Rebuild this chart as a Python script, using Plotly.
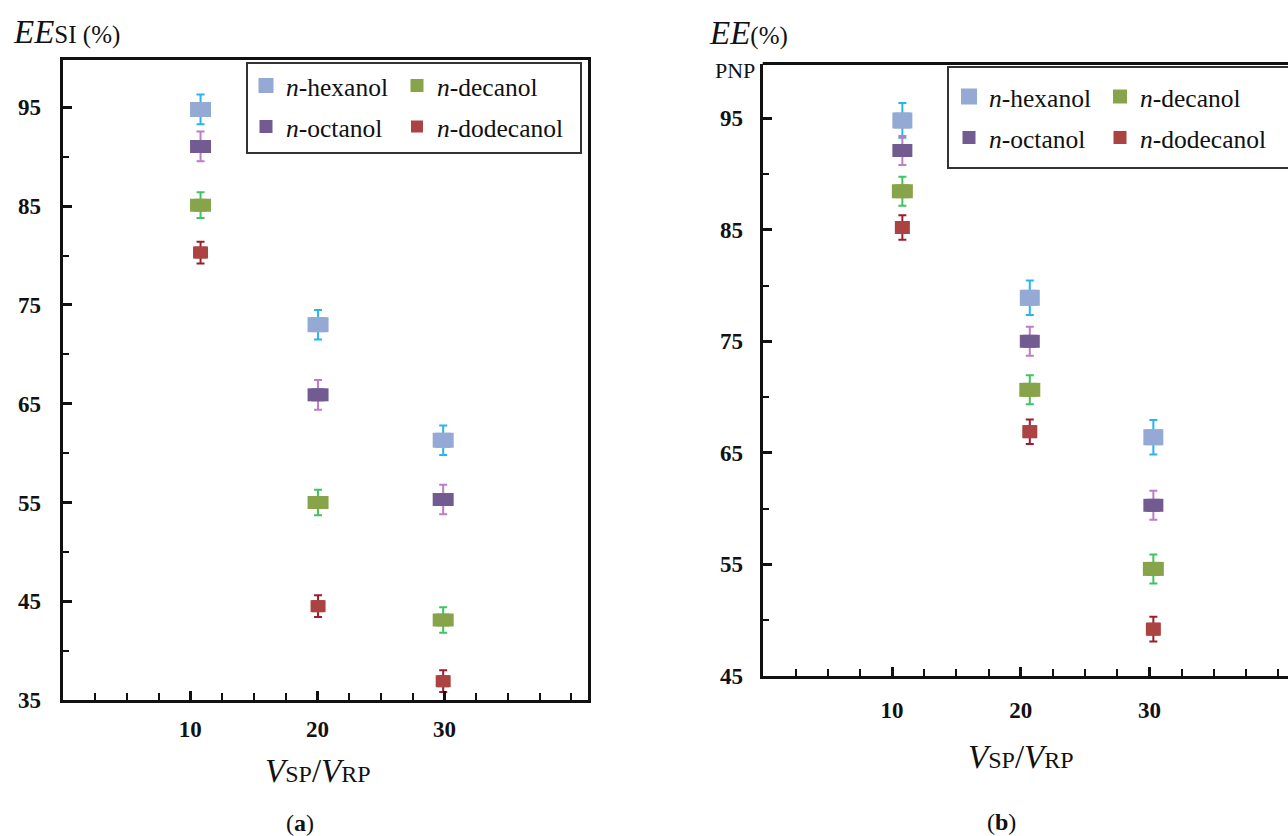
import plotly.graph_objects as go

W, H = 1288, 836

# ---- data -------------------------------------------------------------
solvents = ["<i>n</i>-hexanol", "<i>n</i>-octanol", "<i>n</i>-decanol", "<i>n</i>-dodecanol"]

# (a) EE of SI, positions of the three volume-ratio groups on the x axis
ratio_pos_a = [10.8, 20.05, 29.9]
ee_si = {
    "hexanol": [94.8, 73.0, 61.3],
    "octanol": [91.05, 65.9, 55.3],
    "decanol": [85.1, 55.0, 43.1],
    "dodecanol": [80.3, 44.5, 36.9],
}
err_si = {"hexanol": 1.5, "octanol": 1.5, "decanol": 1.3, "dodecanol": 1.1}

# (b) EE of PNP
ratio_pos_b = [10.8, 20.7, 30.3]
ee_pnp = {
    "hexanol": [94.8, 78.9, 66.4],
    "octanol": [92.1, 75.0, 60.3],
    "decanol": [88.46, 70.65, 54.6],
    "dodecanol": [85.2, 66.9, 49.2],
}
err_pnp = {"hexanol": 1.55, "octanol": 1.3, "decanol": 1.3, "dodecanol": 1.1}

x_ticks = [10, 20, 30]
y_ticks_a = [35, 45, 55, 65, 75, 85, 95]
y_ticks_b = [45, 55, 65, 75, 85, 95]

# ---- styles -----------------------------------------------------------
keys = ["hexanol", "octanol", "decanol", "dodecanol"]
box_fill = {"hexanol": "#94a9d4", "octanol": "#725b91", "decanol": "#88a44a", "dodecanol": "#aa4341"}
bar_col = {"hexanol": "#2ab4ec", "octanol": "#c07bc6", "decanol": "#3fc463", "dodecanol": "#9c1c30"}
box_h_a = {"hexanol": 15, "octanol": 13, "decanol": 13, "dodecanol": 12}
box_w_a = {"hexanol": 21, "octanol": 21, "decanol": 21, "dodecanol": 15}
box_h_b = {"hexanol": 16, "octanol": 13, "decanol": 14, "dodecanol": 13}
box_w_b = {"hexanol": 20, "octanol": 20, "decanol": 21, "dodecanol": 15}

SERIF = "Liberation Serif"
INK = "#111111"

# plot-area geometry in pixels
ax_a = dict(x0=62.7, x1=588, y0=60, y1=700)
ax_b = dict(x0=762.7, x1=1288, y0=63.5, y1=676)
xr_a = [-0.05, 41.3]
xr_b = [-0.05, 40.76]
yr_a = [35, 99.8]
yr_b = [45, 99.9]


def px_per_unit(ax, xr):
    return (ax["x1"] - ax["x0"]) / (xr[1] - xr[0])


fig = go.Figure()

# legend entry icon positions (pixels): one legend per entry
leg_pos_a = {"hexanol": (263, 86), "decanol": (414, 86), "octanol": (263, 127), "dodecanol": (414, 127)}
leg_pos_b = {"hexanol": (966, 97), "decanol": (1117, 97), "octanol": (966, 138), "dodecanol": (1117, 138)}

legend_layouts = {}
n = 0
for panel, xs, data, err, bh, bw, ax, xr, xref, yref, lpos in [
    ("a", ratio_pos_a, ee_si, err_si, box_h_a, box_w_a, ax_a, xr_a, "x", "y", leg_pos_a),
    ("b", ratio_pos_b, ee_pnp, err_pnp, box_h_b, box_w_b, ax_b, xr_b, "x2", "y2", leg_pos_b),
]:
    ppu = px_per_unit(ax, xr)
    for k, name in zip(keys, solvents):
        n += 1
        lname = "legend" if n == 1 else f"legend{n}"
        fig.add_trace(go.Scatter(
            x=xs, y=data[k], name=name, mode="markers",
            xaxis=xref, yaxis=yref, legend=lname,
            marker=dict(symbol="square", size=bh[k], color=box_fill[k], opacity=1,
                        line=dict(width=0)),
            error_y=dict(type="constant", value=err[k], color=bar_col[k],
                         thickness=2, width=4),
            # widen the square into a flat box
            error_x=dict(type="constant", value=(bw[k] / 2) / ppu, color=box_fill[k],
                         thickness=bh[k], width=0),
        ))
        px, py = lpos[k]
        legend_layouts[lname] = dict(
            x=(px - 17) / W, y=1 - py / H, xanchor="left", yanchor="middle",
            bgcolor="rgba(0,0,0,0)", borderwidth=0,
            font=dict(family=SERIF, size=25.5, color=INK),
            itemsizing="trace",
        )

common_axis = dict(
    showgrid=False, zeroline=False, showline=True, linewidth=3, linecolor=INK,
    ticks="inside", tickcolor=INK, automargin=False,
    tickfont=dict(family=SERIF, size=23, color=INK, weight="bold"),
)

fig.update_layout(
    width=W, height=H, margin=dict(l=0, r=0, t=0, b=0, autoexpand=False),
    paper_bgcolor="white", plot_bgcolor="white",
    showlegend=True,
    xaxis=dict(**common_axis, domain=[ax_a["x0"] / W, ax_a["x1"] / W], range=xr_a,
               tickmode="array", tickvals=x_ticks, ticklen=9, tickwidth=2.5,
               mirror=True, anchor="y", ticklabelstandoff=6,
               minor=dict(tickmode="linear", tick0=0, dtick=2.5, ticks="inside",
                          ticklen=7, tickwidth=2, tickcolor=INK)),
    yaxis=dict(**common_axis, domain=[1 - ax_a["y1"] / H, 1 - ax_a["y0"] / H], range=yr_a,
               tickmode="array", tickvals=y_ticks_a, ticklen=9, tickwidth=2.5,
               mirror=True, anchor="x", ticklabelstandoff=14,
               minor=dict(tickmode="linear", tick0=35, dtick=5, ticks="inside",
                          ticklen=6, tickwidth=2, tickcolor=INK)),
    xaxis2=dict(**common_axis, domain=[ax_b["x0"] / W, ax_b["x1"] / W], range=xr_b,
                tickmode="array", tickvals=x_ticks, ticklen=9, tickwidth=2.5,
                anchor="y2", ticklabelstandoff=11,
                minor=dict(tickmode="linear", tick0=0, dtick=2.5, ticks="inside",
                           ticklen=7, tickwidth=2, tickcolor=INK)),
    yaxis2=dict(**common_axis, domain=[1 - ax_b["y1"] / H, 1 - ax_b["y0"] / H], range=yr_b,
                tickmode="array", tickvals=y_ticks_b, ticklen=9, tickwidth=2.5,
                anchor="x2", ticklabelstandoff=12,
                minor=dict(tickmode="linear", tick0=45, dtick=5, ticks="inside",
                           ticklen=6, tickwidth=2, tickcolor=INK)),
    **legend_layouts,
)

# top border of panel (b)
fig.add_shape(type="line", xref="x2 domain", yref="y2 domain", x0=0, x1=1, y0=1, y1=1,
              line=dict(color=INK, width=3))

# legend frames
for (x0, y0, x1, y1) in [(247, 63, 581, 153), (948, 67, 1292, 168)]:
    fig.add_shape(type="rect", xref="paper", yref="paper",
                  x0=x0 / W, x1=x1 / W, y0=1 - y1 / H, y1=1 - y0 / H,
                  line=dict(color="#333333", width=2), fillcolor="rgba(0,0,0,0)")


def note(text, px, py, size, xanchor="center"):
    fig.add_annotation(text=text, x=px / W, y=1 - py / H, xref="paper", yref="paper",
                       showarrow=False, xanchor=xanchor, yanchor="middle",
                       font=dict(family=SERIF, size=size, color=INK))


ratio_title = ("<i>V</i><span style='font-size:24px'>SP</span>/"
               "<i>V</i><span style='font-size:24px'>RP</span>")
note("<i>EE</i><span style='font-size:25px'>SI (%)</span>", 11, 32, 33, "left")
note("<i>EE</i><span style='font-size:25px'>(%)</span>", 707, 33, 33, "left")
note("PNP", 757, 70, 22, "right")
note(ratio_title, 318, 771, 33)
note(ratio_title, 1021, 757, 33)
note("(<b>a</b>)", 300, 823, 24)
note("(<b>b</b>)", 1001, 822, 24)

fig.write_html("out.html")
